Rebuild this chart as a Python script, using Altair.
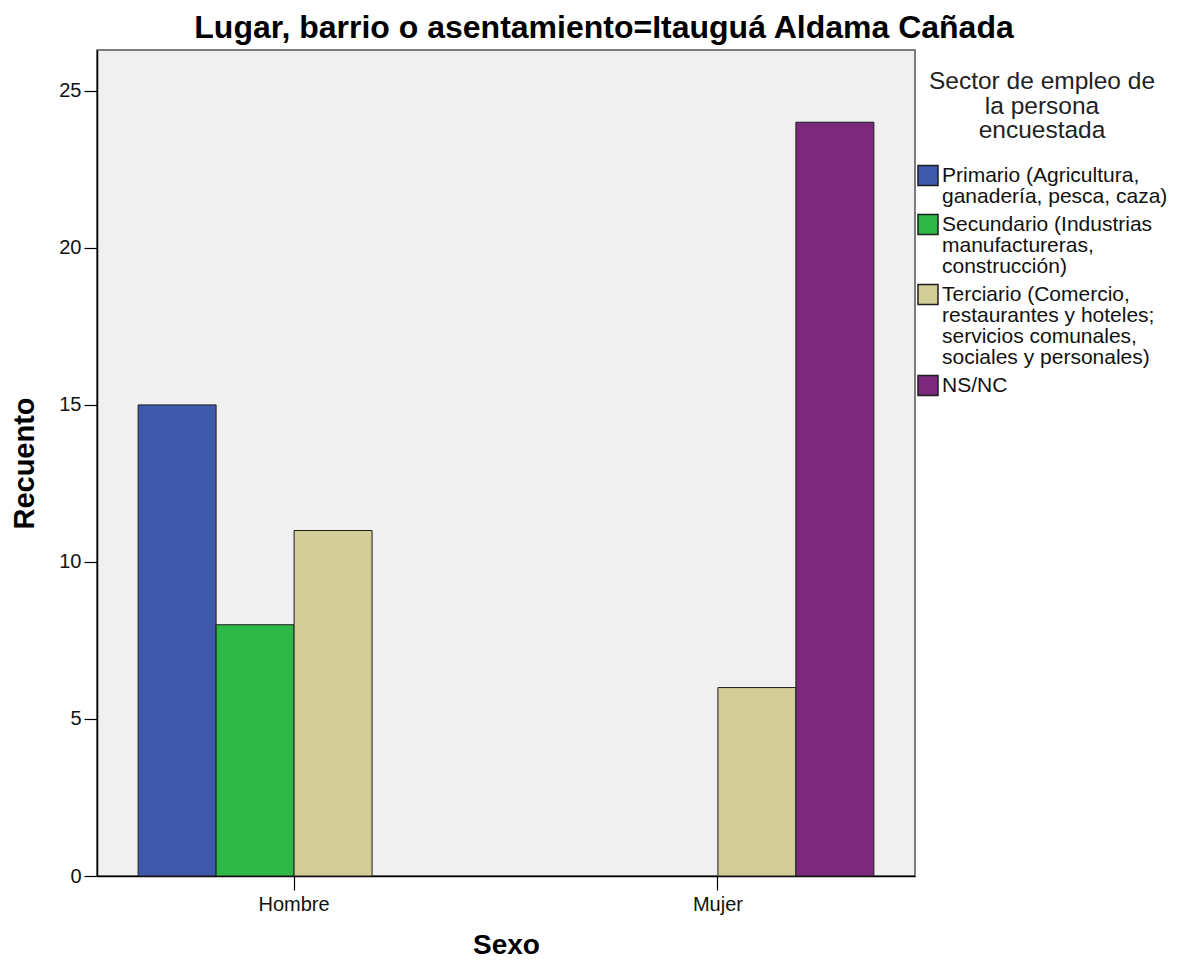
import altair as alt
import pandas as pd

# Data
sexo = ["Hombre", "Hombre", "Hombre", "Mujer", "Mujer"]
sector = [
    "Primario (Agricultura,\nganadería, pesca, caza)",
    "Secundario (Industrias\nmanufactureras,\nconstrucción)",
    "Terciario (Comercio,\nrestaurantes y hoteles;\nservicios comunales,\nsociales y personales)",
    "Terciario (Comercio,\nrestaurantes y hoteles;\nservicios comunales,\nsociales y personales)",
    "NS/NC",
]
recuento = [15, 8, 11, 6, 24]

sector_order = [
    "Primario (Agricultura,\nganadería, pesca, caza)",
    "Secundario (Industrias\nmanufactureras,\nconstrucción)",
    "Terciario (Comercio,\nrestaurantes y hoteles;\nservicios comunales,\nsociales y personales)",
    "NS/NC",
]
sector_colors = ["#3E58AC", "#2EB848", "#D3CE97", "#7C287D"]
sexo_order = ["Hombre", "Mujer"]

df = pd.DataFrame({"Sexo": sexo, "Sector": sector, "Recuento": recuento})

FONT = "Liberation Sans"

chart = (
    alt.Chart(df)
    .mark_bar(stroke="#1e1e1e", strokeWidth=1)
    .encode(
        x=alt.X(
            "Sexo:N",
            sort=sexo_order,
            scale=alt.Scale(domain=sexo_order, paddingInner=0.264, paddingOuter=0.097),
            axis=alt.Axis(
                title="Sexo",
                labelAngle=0,
                labelFontSize=20,
                labelPadding=4,
                tickSize=14,
                titleFontSize=28,
                titlePadding=17,
            ),
        ),
        xOffset=alt.XOffset(
            "Sector:N",
            sort=sector_order,
            scale=alt.Scale(domain=sector_order, paddingInner=0, paddingOuter=0),
        ),
        y=alt.Y(
            "Recuento:Q",
            scale=alt.Scale(domain=[0, 26.3], nice=False),
            axis=alt.Axis(
                title="Recuento",
                values=[0, 5, 10, 15, 20, 25],
                labelFontSize=20,
                labelPadding=3,
                tickSize=13,
                titleFontSize=29,
                titlePadding=19,
                grid=False,
            ),
        ),
        color=alt.Color(
            "Sector:N",
            sort=sector_order,
            scale=alt.Scale(domain=sector_order, range=sector_colors),
            legend=alt.Legend(
                title=["Sector de empleo de", "la persona", "encuestada"],
                orient="none",
                legendX=820,
                legendY=20,
                titleAnchor="middle",
                titleAlign="center",
                titleFontSize=24.5,
                titleFontWeight="normal",
                titleLineHeight=24.5,
                titleLimit=400,
                titleColor="#222222",
                titlePadding=21,
                labelFontSize=21,
                labelColor="#111111",
                labelLimit=400,
                labelOffset=3,
                labelExpr="split(datum.label, '\\n')",
                symbolType="square",
                symbolSize=400,
                symbolStrokeColor="#1e1e1e",
                symbolStrokeWidth=1.5,
                symbolOpacity=1,
                rowPadding=5,
                padding=0,
            ),
        ),
    )
    .properties(
        width=818,
        height=826,
        autosize=alt.AutoSizeParams(type="none"),
        padding={"left": 89, "top": 42, "right": 262, "bottom": 83},
        title=alt.TitleParams(
            "Lugar, barrio o asentamiento=Itauguá Aldama Cañada",
            fontSize=32,
            fontWeight="bold",
            font=FONT,
            color="#000000",
            anchor="middle",
            frame="group",
            dx=98,
            dy=34,
            offset=14,
            baseline="alphabetic",
        ),
    )
    .configure(font=FONT, style={"guide-label": {"lineHeight": 21}})
    .configure_view(fill="#F0F0F0", stroke="#555555", strokeWidth=1.5)
    .configure_axis(
        domainColor="#000000",
        domainWidth=1.5,
        tickColor="#000000",
        tickWidth=1.2,
        labelColor="#111111",
        titleColor="#000000",
        titleFontWeight="bold",
        labelFont=FONT,
        titleFont=FONT,
    )
    .configure_legend(labelFont=FONT, titleFont=FONT)
)

chart.save("out.html", embed_options={"renderer": "svg", "actions": False})
